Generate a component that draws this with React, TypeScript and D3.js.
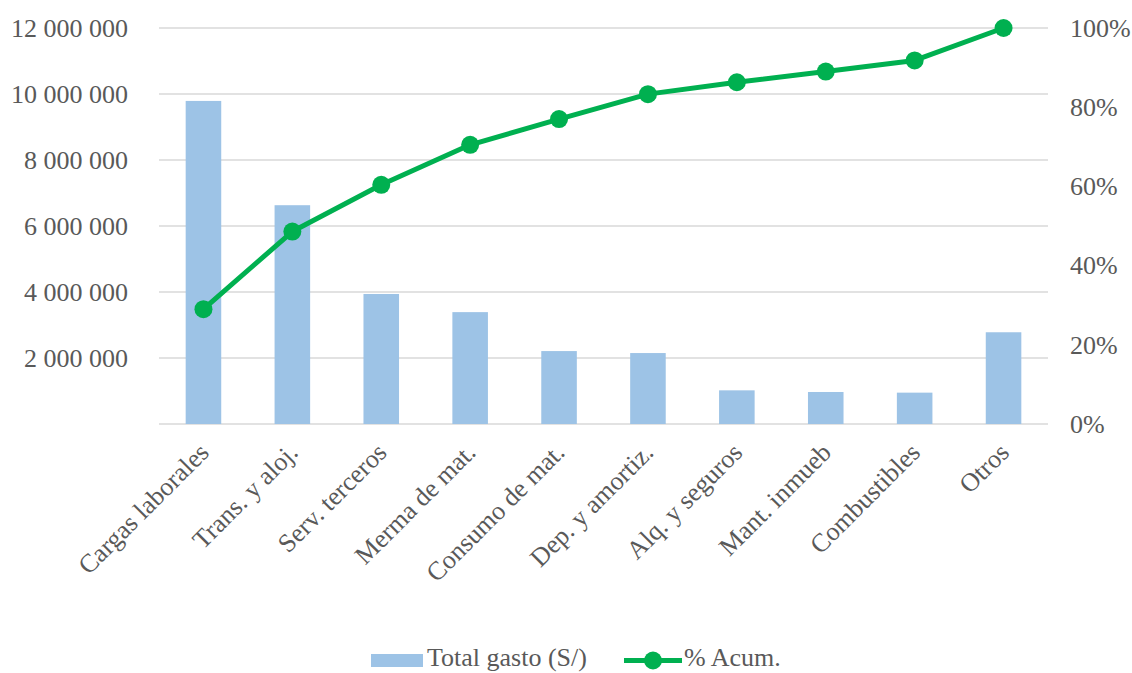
import React from "react";
import * as d3 from "d3";

const categories = [
  "Cargas laborales",
  "Trans. y aloj.",
  "Serv. terceros",
  "Merma de mat.",
  "Consumo de mat.",
  "Dep. y amortiz.",
  "Alq. y seguros",
  "Mant. inmueb",
  "Combustibles",
  "Otros",
];
const totalGasto = [9790000, 6630000, 3940000, 3390000, 2210000, 2150000, 1020000, 970000, 950000, 2780000];
const pctAcum = [0.29, 0.486, 0.604, 0.705, 0.77, 0.833, 0.863, 0.89, 0.918, 1.0];
const leftTicks = [0, 2000000, 4000000, 6000000, 8000000, 10000000, 12000000];
const rightTicks = [0, 0.2, 0.4, 0.6, 0.8, 1.0];

const W = 1132;
const H = 673;
const left = 159;
const right = 1048;
const top = 28;
const bottom = 424;
const FONT = "Liberation Serif";
const TEXT = "#595959";

export default function App() {
  const x = d3.scaleBand<string>().domain(categories).range([left, right]).paddingInner(0.6).paddingOuter(0.3);
  const yL = d3.scaleLinear().domain([0, 12000000]).range([bottom, top]);
  const yR = d3.scaleLinear().domain([0, 1]).range([bottom, top]);
  const fmtL = (v: number) => (v === 0 ? "" : d3.format(",")(v).replace(/,/g, " "));
  const fmtR = (v: number) => `${Math.round(v * 100)}%`;
  const cx = (c: string) => (x(c) as number) + x.bandwidth() / 2;
  const line = d3
    .line<number>()
    .x((_, i) => cx(categories[i]))
    .y((d) => yR(d));
  const ts = { fontFamily: FONT, fontSize: 26, fill: TEXT } as React.CSSProperties;

  return (
    <svg width={W} height={H} style={{ position: "absolute", left: 0, top: 0 }}>
      <rect width={W} height={H} fill="#fff" />
      {leftTicks.map((t) => (
        <line key={t} x1={left} x2={right} y1={yL(t)} y2={yL(t)} stroke="#D9D9D9" strokeWidth={1.5} />
      ))}
      {leftTicks.map((t) => (
        <text key={"l" + t} x={128} y={yL(t)} dy="0.34em" textAnchor="end" style={ts}>
          {fmtL(t)}
        </text>
      ))}
      {rightTicks.map((t) => (
        <text key={"r" + t} x={1070} y={yR(t)} dy="0.34em" textAnchor="start" style={ts}>
          {fmtR(t)}
        </text>
      ))}
      {categories.map((c, i) => (
        <rect
          key={c}
          x={x(c)}
          y={yL(totalGasto[i])}
          width={x.bandwidth()}
          height={bottom - yL(totalGasto[i])}
          fill="#9DC3E6"
        />
      ))}
      <path d={line(pctAcum) || ""} fill="none" stroke="#00B050" strokeWidth={5} strokeLinejoin="round" />
      {pctAcum.map((p, i) => (
        <circle key={i} cx={cx(categories[i])} cy={yR(p)} r={9} fill="#00B050" />
      ))}
      {categories.map((c) => (
        <text
          key={"c" + c}
          transform={`translate(${cx(c) + 7},${454}) rotate(-45)`}
          textAnchor="end"
          style={ts}
        >
          {c}
        </text>
      ))}
      <g>
        <rect x={371} y={654} width={52} height={13} fill="#9DC3E6" />
        <text x={427} y={666} style={ts}>
          Total gasto (S/)
        </text>
        <line x1={624} x2={682} y1={660.5} y2={660.5} stroke="#00B050" strokeWidth={5} />
        <circle cx={653} cy={660.5} r={9} fill="#00B050" />
        <text x={684} y={666} style={ts}>
          % Acum.
        </text>
      </g>
    </svg>
  );
}
